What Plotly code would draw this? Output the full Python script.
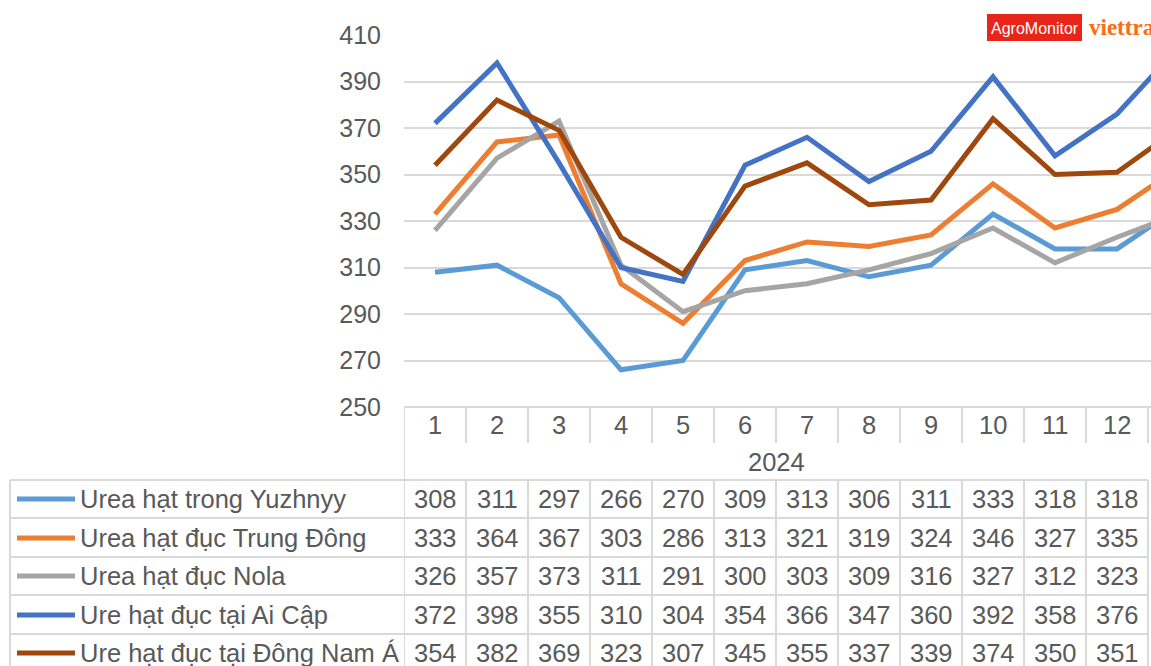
import plotly.graph_objects as go

# Dữ liệu giá urê (USD/tấn) theo tháng năm 2024
months = list(range(1, 13))
year_label = "2024"

names = [
    "Urea hạt trong Yuzhnyy",
    "Urea hạt đục Trung Đông",
    "Urea hạt đục Nola",
    "Ure hạt đục tại Ai Cập",
    "Ure hạt đục tại Đông Nam Á",
]
colors = ["#5B9BD5", "#ED7D31", "#A5A5A5", "#4472C4", "#9E480E"]

yuzhnyy = [308, 311, 297, 266, 270, 309, 313, 306, 311, 333, 318, 318]
trung_dong = [333, 364, 367, 303, 286, 313, 321, 319, 324, 346, 327, 335]
nola = [326, 357, 373, 311, 291, 300, 303, 309, 316, 327, 312, 323]
ai_cap = [372, 398, 355, 310, 304, 354, 366, 347, 360, 392, 358, 376]
dong_nam_a = [354, 382, 369, 323, 307, 345, 355, 337, 339, 374, 350, 351]

# tháng kế tiếp (bị cắt khỏi khung hình, chỉ thấy đoạn đầu của đường)
next_month = [336, 353, 333, 405, 370]

series = [yuzhnyy, trung_dong, nola, ai_cap, dong_nam_a]

y_ticks = list(range(250, 411, 20))

W, H = 1151, 666
grid = "#d9d9d9"
txt = "#595959"
font = "Arial, Liberation Sans, sans-serif"
fs = 25.5


def px(p):
    return p / W


def py(p):
    # pixel từ trên xuống -> toạ độ paper
    return 1 - p / H


col_w = 62
x_left = 404
x_max = 0.5 + (W - x_left) / col_w

fig = go.Figure()

for name, vals, nxt, c in zip(names, series, next_month, colors):
    fig.add_trace(go.Scatter(
        x=months + [13], y=vals + [nxt], name=name, mode="lines",
        line=dict(color=c, width=5), showlegend=False, hoverinfo="skip",
    ))

fig.update_layout(
    width=W, height=H,
    margin=dict(l=0, r=0, t=0, b=0, autoexpand=False),
    paper_bgcolor="white", plot_bgcolor="white",
    font=dict(family=font, color=txt, size=fs),
    xaxis=dict(domain=[px(x_left), 1], range=[0.5, x_max],
               showticklabels=False, showgrid=False, zeroline=False),
    yaxis=dict(domain=[py(407), py(35)], range=[250, 410],
               tickvals=y_ticks, showgrid=True, gridcolor=grid, gridwidth=2,
               zeroline=False, tickfont=dict(size=25, color=txt),
               ticklabelstandoff=22),
)

shapes = []
ann = []


def line(x0, x1, y0, y1, xref="paper", color=grid, width=2):
    shapes.append(dict(type="line", xref=xref, yref="paper", x0=x0, x1=x1,
                       y0=py(y0), y1=py(y1), line=dict(color=color, width=width)))


def label(x, y, text, xref="x", xanchor="center", size=fs, color=txt, **kw):
    ann.append(dict(x=x, y=py(y), xref=xref, yref="paper", text=text,
                    xanchor=xanchor, yanchor="middle", showarrow=False,
                    font=dict(family=kw.pop("family", font), size=size, color=color), **kw))


# bảng dữ liệu
line(0.5, x_max, 407, 407, xref="x")
for rt in [480, 518, 557, 595, 634]:
    line(px(10), px(1148), rt, rt)
line(0.5, 0.5, 407, H + 20, xref="x")
for m in months:
    line(m + 0.5, m + 0.5, 407, 443, xref="x")
    line(m + 0.5, m + 0.5, 480, H + 20, xref="x")
line(px(10), px(10), 480, H + 20)

for m in months:
    label(m, 425, str(m))
label(6.5, 462, year_label)

row_mid = [499, 538, 576, 615, 653]
for name, vals, c, ym in zip(names, series, colors, row_mid):
    line(px(17), px(75), ym, ym, color=c, width=5)
    label(px(78), ym, name, xref="paper", xanchor="left")
    for m, v in zip(months, vals):
        label(m, ym, str(v))

# logo
shapes.append(dict(type="rect", xref="paper", yref="paper", layer="above",
                   x0=px(1082), x1=1, y0=py(42), y1=py(12),
                   fillcolor="white", line=dict(width=0)))
shapes.append(dict(type="rect", xref="paper", yref="paper", layer="above",
                   x0=px(987), x1=px(1082), y0=py(41), y1=py(14),
                   fillcolor="#E8251B", line=dict(width=0)))
label(px(1034.5), 28, "AgroMonitor", xref="paper", size=16, color="white",
      family="Liberation Sans Narrow, Arial Narrow, Liberation Sans, sans-serif")
label(px(1087), 27, "<b>viettrade</b>", xref="paper", xanchor="left", size=23,
      color="#FF6A13", family="Liberation Serif, DejaVu Serif, serif")

fig.update_layout(shapes=shapes, annotations=ann)
# bỏ lề mặc định của trang để hình nằm đúng khung cửa sổ
fig.write_html("out.html", config={"displayModeBar": False},
               post_script="document.body.style.margin='0';document.body.style.overflow='hidden';")
